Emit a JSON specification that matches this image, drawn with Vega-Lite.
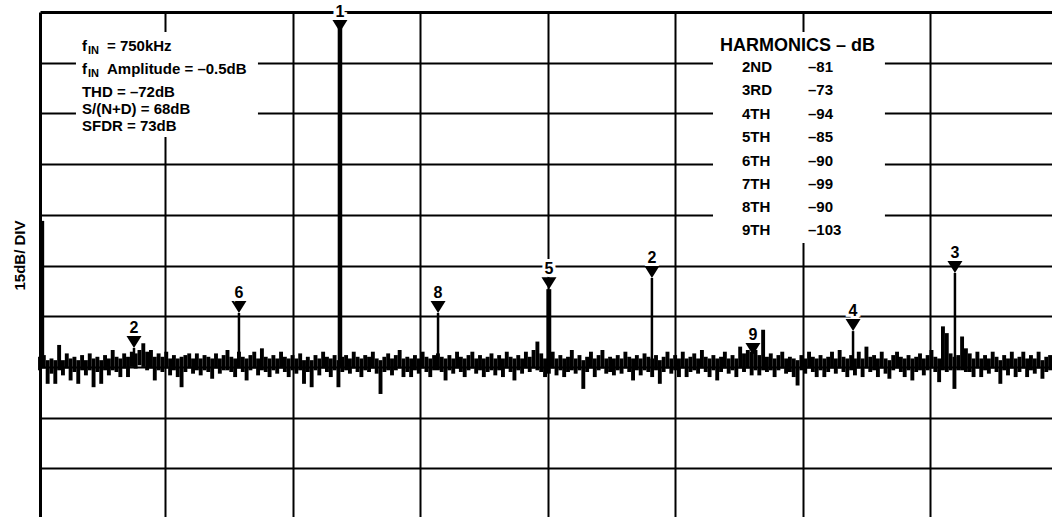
{
  "$schema": "https://vega.github.io/schema/vega-lite/v6.json",
  "width": 1012,
  "height": 505,
  "autosize": "none",
  "padding": {"left": 40, "top": 12, "right": 0, "bottom": 0},
  "background": "white",
  "config": {
    "view": {"stroke": null},
    "axis": {"labels": false, "ticks": false, "grid": true, "gridColor": "black", "gridWidth": 2, "gridOpacity": 1, "domain": true, "domainColor": "black", "domainWidth": 3, "titleFont": "Liberation Sans", "titleFontSize": 15, "titleFontWeight": "bold", "titleColor": "black"},
    "text": {"font": "Liberation Sans", "fontWeight": "bold", "color": "black"}
  },
  "datasets": {
    "noise": [
      {"x":0.02,"hi":-102,"lo":-106},{"x":0.05,"hi":-101.5,"lo":-105.5},{"x":0.08,"hi":-103,"lo":-110},{"x":0.11,"hi":-102.5,"lo":-107},{"x":0.14,"hi":-103,"lo":-110},{"x":0.17,"hi":-98.5,"lo":-106},{"x":0.20,"hi":-103,"lo":-107.5},{"x":0.23,"hi":-101,"lo":-105.5},{"x":0.26,"hi":-102.5,"lo":-109},{"x":0.29,"hi":-102,"lo":-106.5},
      {"x":0.32,"hi":-103,"lo":-110},{"x":0.35,"hi":-101.5,"lo":-106},{"x":0.38,"hi":-103,"lo":-107.5},{"x":0.41,"hi":-101,"lo":-106},{"x":0.44,"hi":-102.5,"lo":-111},{"x":0.47,"hi":-102,"lo":-106.5},{"x":0.50,"hi":-103,"lo":-110},{"x":0.53,"hi":-101.5,"lo":-106},{"x":0.56,"hi":-102.5,"lo":-107.5},{"x":0.59,"hi":-100,"lo":-106},
      {"x":0.62,"hi":-102,"lo":-106.5},{"x":0.65,"hi":-102.5,"lo":-108},{"x":0.68,"hi":-101,"lo":-105.5},{"x":0.71,"hi":-102,"lo":-108},{"x":0.74,"hi":-100.5,"lo":-105},{"x":0.77,"hi":-101,"lo":-105.5},{"x":0.80,"hi":-100,"lo":-104.5},{"x":0.83,"hi":-98,"lo":-105},{"x":0.86,"hi":-100.5,"lo":-106},{"x":0.89,"hi":-100,"lo":-105.5},
      {"x":0.92,"hi":-102,"lo":-109},{"x":0.95,"hi":-101,"lo":-106},{"x":0.98,"hi":-102,"lo":-106.5},{"x":1.01,"hi":-100.5,"lo":-105.5},{"x":1.04,"hi":-102.5,"lo":-107.5},{"x":1.07,"hi":-101.5,"lo":-106},{"x":1.10,"hi":-102.5,"lo":-108},{"x":1.13,"hi":-102,"lo":-111},{"x":1.16,"hi":-101.5,"lo":-106.5},{"x":1.19,"hi":-101,"lo":-105.5},
      {"x":1.22,"hi":-102.5,"lo":-107},{"x":1.25,"hi":-101,"lo":-106},{"x":1.28,"hi":-102.5,"lo":-107.5},{"x":1.31,"hi":-101.5,"lo":-106},{"x":1.34,"hi":-102,"lo":-106.5},{"x":1.37,"hi":-102.5,"lo":-108.5},{"x":1.40,"hi":-101,"lo":-105.5},{"x":1.43,"hi":-102.5,"lo":-107},{"x":1.46,"hi":-101.5,"lo":-106},{"x":1.49,"hi":-100,"lo":-106},
      {"x":1.52,"hi":-102,"lo":-106.5},{"x":1.55,"hi":-102.5,"lo":-108},{"x":1.58,"hi":-100.5,"lo":-105.5},{"x":1.61,"hi":-102,"lo":-106.5},{"x":1.64,"hi":-102.5,"lo":-109},{"x":1.67,"hi":-101.5,"lo":-106},{"x":1.70,"hi":-100.5,"lo":-105.5},{"x":1.73,"hi":-102.5,"lo":-107.5},{"x":1.76,"hi":-99.5,"lo":-106},{"x":1.79,"hi":-102,"lo":-106.5},
      {"x":1.82,"hi":-102.5,"lo":-108},{"x":1.85,"hi":-101.5,"lo":-106},{"x":1.88,"hi":-102.5,"lo":-107},{"x":1.91,"hi":-100.5,"lo":-105.5},{"x":1.94,"hi":-102,"lo":-106.5},{"x":1.97,"hi":-102.5,"lo":-108},{"x":2.00,"hi":-101.5,"lo":-106},{"x":2.03,"hi":-102.5,"lo":-107},{"x":2.06,"hi":-101,"lo":-106},{"x":2.09,"hi":-103,"lo":-110},
      {"x":2.12,"hi":-102,"lo":-106.5},{"x":2.15,"hi":-103,"lo":-111},{"x":2.18,"hi":-101.5,"lo":-106},{"x":2.21,"hi":-102.5,"lo":-107.5},{"x":2.24,"hi":-100.5,"lo":-105.5},{"x":2.27,"hi":-102,"lo":-106.5},{"x":2.30,"hi":-102.5,"lo":-108},{"x":2.33,"hi":-101.5,"lo":-106},{"x":2.36,"hi":-103,"lo":-111},{"x":2.39,"hi":-102,"lo":-106.5},
      {"x":2.42,"hi":-101.5,"lo":-106},{"x":2.45,"hi":-102.5,"lo":-107},{"x":2.48,"hi":-100.5,"lo":-105.5},{"x":2.51,"hi":-102,"lo":-106.5},{"x":2.54,"hi":-102.5,"lo":-108},{"x":2.57,"hi":-101.5,"lo":-106},{"x":2.60,"hi":-102,"lo":-106.5},{"x":2.63,"hi":-100.5,"lo":-105.5},{"x":2.66,"hi":-102.5,"lo":-107},{"x":2.69,"hi":-103,"lo":-113},
      {"x":2.72,"hi":-102,"lo":-106.5},{"x":2.75,"hi":-101,"lo":-106},{"x":2.78,"hi":-102.5,"lo":-107.5},{"x":2.81,"hi":-101.5,"lo":-106},{"x":2.84,"hi":-100,"lo":-105.5},{"x":2.87,"hi":-102.5,"lo":-108},{"x":2.90,"hi":-102,"lo":-106.5},{"x":2.93,"hi":-102.5,"lo":-108},{"x":2.96,"hi":-101.5,"lo":-106},{"x":2.99,"hi":-102.5,"lo":-107},
      {"x":3.02,"hi":-100.5,"lo":-105.5},{"x":3.05,"hi":-102,"lo":-106.5},{"x":3.08,"hi":-102.5,"lo":-108},{"x":3.11,"hi":-101.5,"lo":-106},{"x":3.14,"hi":-101,"lo":-106},{"x":3.17,"hi":-102,"lo":-106.5},{"x":3.20,"hi":-102.5,"lo":-109},{"x":3.23,"hi":-101.5,"lo":-106},{"x":3.26,"hi":-102.5,"lo":-107},{"x":3.29,"hi":-100.5,"lo":-105.5},
      {"x":3.32,"hi":-102,"lo":-106.5},{"x":3.35,"hi":-102.5,"lo":-108},{"x":3.38,"hi":-101.5,"lo":-106},{"x":3.41,"hi":-100.5,"lo":-105.5},{"x":3.44,"hi":-102.5,"lo":-107},{"x":3.47,"hi":-101.5,"lo":-106},{"x":3.50,"hi":-102.5,"lo":-108},{"x":3.53,"hi":-102,"lo":-106.5},{"x":3.56,"hi":-101,"lo":-106},{"x":3.59,"hi":-102.5,"lo":-107.5},
      {"x":3.62,"hi":-101.5,"lo":-106},{"x":3.65,"hi":-102.5,"lo":-108},{"x":3.68,"hi":-100.5,"lo":-105.5},{"x":3.71,"hi":-102,"lo":-106.5},{"x":3.74,"hi":-102.5,"lo":-109},{"x":3.77,"hi":-101.5,"lo":-106},{"x":3.80,"hi":-102.5,"lo":-107},{"x":3.83,"hi":-100.5,"lo":-105.5},{"x":3.86,"hi":-102,"lo":-106.5},{"x":3.89,"hi":-100,"lo":-105.5},
      {"x":3.92,"hi":-97.5,"lo":-106},{"x":3.95,"hi":-101,"lo":-106.5},{"x":3.98,"hi":-102.5,"lo":-108},{"x":4.01,"hi":-102,"lo":-107},{"x":4.04,"hi":-100.5,"lo":-105.5},{"x":4.07,"hi":-102.5,"lo":-107.5},{"x":4.10,"hi":-101.5,"lo":-106},{"x":4.13,"hi":-102.5,"lo":-108},{"x":4.16,"hi":-102,"lo":-106.5},{"x":4.19,"hi":-100,"lo":-106},
      {"x":4.22,"hi":-102.5,"lo":-107},{"x":4.25,"hi":-101.5,"lo":-106},{"x":4.28,"hi":-103,"lo":-111.5},{"x":4.31,"hi":-102,"lo":-106.5},{"x":4.34,"hi":-100.5,"lo":-105.5},{"x":4.37,"hi":-102.5,"lo":-108},{"x":4.40,"hi":-101.5,"lo":-106},{"x":4.43,"hi":-100,"lo":-105.5},{"x":4.46,"hi":-102.5,"lo":-107},{"x":4.49,"hi":-102,"lo":-106.5},
      {"x":4.52,"hi":-102.5,"lo":-107.5},{"x":4.55,"hi":-101.5,"lo":-106},{"x":4.58,"hi":-102.5,"lo":-107},{"x":4.61,"hi":-100.5,"lo":-105.5},{"x":4.64,"hi":-102,"lo":-106.5},{"x":4.67,"hi":-102.5,"lo":-109},{"x":4.70,"hi":-101.5,"lo":-106},{"x":4.73,"hi":-102.5,"lo":-107.5},{"x":4.76,"hi":-101,"lo":-106},{"x":4.79,"hi":-102,"lo":-106.5},
      {"x":4.82,"hi":-102.5,"lo":-108},{"x":4.85,"hi":-101.5,"lo":-106},{"x":4.88,"hi":-103,"lo":-110},{"x":4.91,"hi":-102,"lo":-106.5},{"x":4.94,"hi":-100.5,"lo":-105.5},{"x":4.97,"hi":-102.5,"lo":-107},{"x":5.00,"hi":-101.5,"lo":-106},{"x":5.03,"hi":-102.5,"lo":-108},{"x":5.06,"hi":-100.5,"lo":-105.5},{"x":5.09,"hi":-102.5,"lo":-108},
      {"x":5.12,"hi":-102,"lo":-106.5},{"x":5.15,"hi":-101,"lo":-106},{"x":5.18,"hi":-102.5,"lo":-107},{"x":5.21,"hi":-100,"lo":-105.5},{"x":5.24,"hi":-102,"lo":-106.5},{"x":5.27,"hi":-102.5,"lo":-108},{"x":5.30,"hi":-101.5,"lo":-106},{"x":5.33,"hi":-102.5,"lo":-109},{"x":5.36,"hi":-102,"lo":-106.5},{"x":5.39,"hi":-100.5,"lo":-105.5},
      {"x":5.42,"hi":-102.5,"lo":-107},{"x":5.45,"hi":-101.5,"lo":-106},{"x":5.48,"hi":-102.5,"lo":-108},{"x":5.51,"hi":-99,"lo":-105.5},{"x":5.54,"hi":-101,"lo":-106.5},{"x":5.57,"hi":-100,"lo":-105.5},{"x":5.60,"hi":-100.5,"lo":-107.5},{"x":5.63,"hi":-100,"lo":-106},{"x":5.66,"hi":-101.5,"lo":-107.5},{"x":5.69,"hi":-94,"lo":-106},
      {"x":5.72,"hi":-102,"lo":-106.5},{"x":5.75,"hi":-101,"lo":-106},{"x":5.78,"hi":-102.5,"lo":-108},{"x":5.81,"hi":-101.5,"lo":-106},{"x":5.84,"hi":-100.5,"lo":-105.5},{"x":5.87,"hi":-102.5,"lo":-107},{"x":5.90,"hi":-102,"lo":-106.5},{"x":5.93,"hi":-102.5,"lo":-108},{"x":5.96,"hi":-103,"lo":-110.5},{"x":5.99,"hi":-101.5,"lo":-106},
      {"x":6.02,"hi":-102.5,"lo":-107},{"x":6.05,"hi":-100.5,"lo":-105.5},{"x":6.08,"hi":-102,"lo":-106.5},{"x":6.11,"hi":-102.5,"lo":-108},{"x":6.14,"hi":-101.5,"lo":-106},{"x":6.17,"hi":-102.5,"lo":-108},{"x":6.20,"hi":-102,"lo":-106.5},{"x":6.23,"hi":-100.5,"lo":-105.5},{"x":6.26,"hi":-102.5,"lo":-107},{"x":6.29,"hi":-100,"lo":-105.5},
      {"x":6.32,"hi":-102,"lo":-106.5},{"x":6.35,"hi":-102.5,"lo":-108},{"x":6.38,"hi":-101.5,"lo":-106},{"x":6.41,"hi":-102.5,"lo":-107.5},{"x":6.44,"hi":-100.5,"lo":-105.5},{"x":6.47,"hi":-102.5,"lo":-108},{"x":6.50,"hi":-99,"lo":-105.5},{"x":6.53,"hi":-102,"lo":-106.5},{"x":6.56,"hi":-101.5,"lo":-106},{"x":6.59,"hi":-102.5,"lo":-108},
      {"x":6.62,"hi":-100.5,"lo":-105.5},{"x":6.65,"hi":-102.5,"lo":-107},{"x":6.68,"hi":-103,"lo":-108.5},{"x":6.71,"hi":-101.5,"lo":-106},{"x":6.74,"hi":-100.5,"lo":-105.5},{"x":6.77,"hi":-102,"lo":-106.5},{"x":6.80,"hi":-102.5,"lo":-108},{"x":6.83,"hi":-101.5,"lo":-106},{"x":6.86,"hi":-102.5,"lo":-109},{"x":6.89,"hi":-102,"lo":-106.5},
      {"x":6.92,"hi":-101,"lo":-106},{"x":6.95,"hi":-102.5,"lo":-107.5},{"x":6.98,"hi":-101.5,"lo":-106},{"x":7.01,"hi":-100,"lo":-105.5},{"x":7.04,"hi":-102,"lo":-106.5},{"x":7.07,"hi":-102.5,"lo":-109.5},{"x":7.10,"hi":-93,"lo":-106},{"x":7.13,"hi":-95,"lo":-106.5},{"x":7.16,"hi":-101,"lo":-106},{"x":7.19,"hi":-102,"lo":-111.5},
      {"x":7.22,"hi":-101.5,"lo":-106},{"x":7.25,"hi":-96,"lo":-106},{"x":7.28,"hi":-99.5,"lo":-106.5},{"x":7.31,"hi":-101,"lo":-106.5},{"x":7.34,"hi":-102.5,"lo":-108},{"x":7.37,"hi":-100.5,"lo":-105.5},{"x":7.40,"hi":-102.5,"lo":-108},{"x":7.43,"hi":-101.5,"lo":-106},{"x":7.46,"hi":-102.5,"lo":-107},{"x":7.49,"hi":-100.5,"lo":-105.5},
      {"x":7.52,"hi":-102,"lo":-106.5},{"x":7.55,"hi":-103,"lo":-110},{"x":7.58,"hi":-101.5,"lo":-106},{"x":7.61,"hi":-102.5,"lo":-107.5},{"x":7.64,"hi":-100.5,"lo":-105.5},{"x":7.67,"hi":-102.5,"lo":-108},{"x":7.70,"hi":-102,"lo":-106.5},{"x":7.73,"hi":-100.5,"lo":-105.5},{"x":7.76,"hi":-102.5,"lo":-108},{"x":7.79,"hi":-101.5,"lo":-106},
      {"x":7.82,"hi":-102.5,"lo":-107},{"x":7.85,"hi":-100.5,"lo":-105.5},{"x":7.88,"hi":-103,"lo":-108.5},{"x":7.91,"hi":-102,"lo":-106.5},{"x":7.94,"hi":-101.5,"lo":-106}
    ],
    "peaks": [
      {"x":0.027,"top":-61.8},{"x":0.043,"top":-61.8},
      {"x":2.364,"top":-0.5},{"x":2.380,"top":-0.5},
      {"x":0.757,"top":-99.4},
      {"x":1.580,"top":-89.05},
      {"x":3.141,"top":-89.05},
      {"x":4.000,"top":-82.0},{"x":4.019,"top":-82.0},
      {"x":4.818,"top":-78.7},
      {"x":5.626,"top":-101.5},
      {"x":6.395,"top":-94.4},
      {"x":7.194,"top":-77.2}
    ],
    "markers": [
      {"m":"1","x":2.372,"y":-5.9},
      {"m":"2","x":0.757,"y":-99.4},
      {"m":"6","x":1.580,"y":-89.05},
      {"m":"8","x":3.141,"y":-89.05},
      {"m":"5","x":4.011,"y":-82.0},
      {"m":"2","x":4.818,"y":-78.7},
      {"m":"9","x":5.610,"y":-101.5},
      {"m":"4","x":6.395,"y":-94.4},
      {"m":"3","x":7.194,"y":-77.2}
    ],
    "boxes": [
      {"x":0.302,"x2":1.729,"y":-5.92,"y2":-36.98},
      {"x":5.297,"x2":6.645,"y":-5.92,"y2":-68.34}
    ],
    "info": [
      {"t":"f","s":"IN","r":"= 750kHz","x":0.349,"y":-11.39},
      {"t":"f","s":"IN","r":"Amplitude = –0.5dB","x":0.349,"y":-18.34},
      {"t":"THD = –72dB","x":0.349,"y":-25.15},
      {"t":"S/(N+D) = 68dB","x":0.349,"y":-30.3},
      {"t":"SFDR = 73dB","x":0.349,"y":-35.21}
    ],
    "header": [
      {"t":"HARMONICS – dB","x":5.352,"y":-11.45}
    ],
    "harm": [
      {"h":"2ND","v":"–81","y":-17.81},
      {"h":"3RD","v":"–73","y":-24.5},
      {"h":"4TH","v":"–94","y":-31.6},
      {"h":"5TH","v":"–85","y":-38.52},
      {"h":"6TH","v":"–90","y":-45.42},
      {"h":"7TH","v":"–99","y":-52.31},
      {"h":"8TH","v":"–90","y":-59.23},
      {"h":"9TH","v":"–103","y":-66.12}
    ]
  },
  "layer": [
    {
      "data": {"name": "noise"},
      "mark": {"type": "rule", "color": "black", "strokeWidth": 3.9},
      "encoding": {
        "x": {"field": "x", "type": "quantitative", "scale": {"domain": [0.02, 7.955], "nice": false, "zero": false}, "axis": {"orient": "top", "values": [1,2,3,4,5,6,7], "title": null}},
        "y": {"field": "hi", "type": "quantitative", "scale": {"domain": [-149.4, 0], "nice": false, "zero": false}, "axis": {"orient": "left", "values": [-15,-30,-45,-60,-75,-90,-105,-120,-135], "title": "15dB/ DIV", "titleX": -21, "titleY": 243, "titleAngle": 270, "titleAlign": "center", "titleBaseline": "middle"}},
        "y2": {"field": "lo"}
      }
    },
    {
      "data": {"name": "peaks"},
      "mark": {"type": "rule", "color": "black", "strokeWidth": 2.5},
      "encoding": {
        "x": {"field": "x", "type": "quantitative"},
        "y": {"field": "top", "type": "quantitative"},
        "y2": {"datum": -105}
      }
    },
    {
      "data": {"name": "boxes"},
      "mark": {"type": "rect", "color": "white", "opacity": 1},
      "encoding": {
        "x": {"field": "x", "type": "quantitative"},
        "x2": {"field": "x2"},
        "y": {"field": "y", "type": "quantitative"},
        "y2": {"field": "y2"}
      }
    },
    {
      "data": {"name": "info"},
      "mark": {"type": "text", "align": "left", "baseline": "alphabetic", "fontSize": 15},
      "encoding": {
        "x": {"field": "x", "type": "quantitative"},
        "y": {"field": "y", "type": "quantitative"},
        "text": {"field": "t"}
      }
    },
    {
      "data": {"name": "info"},
      "transform": [{"filter": "datum.s"}],
      "mark": {"type": "text", "align": "left", "baseline": "alphabetic", "fontSize": 11, "dx": 6, "dy": 3},
      "encoding": {
        "x": {"field": "x", "type": "quantitative"},
        "y": {"field": "y", "type": "quantitative"},
        "text": {"field": "s"}
      }
    },
    {
      "data": {"name": "info"},
      "transform": [{"filter": "datum.r"}],
      "mark": {"type": "text", "align": "left", "baseline": "alphabetic", "fontSize": 15, "dx": 25},
      "encoding": {
        "x": {"field": "x", "type": "quantitative"},
        "y": {"field": "y", "type": "quantitative"},
        "text": {"field": "r"}
      }
    },
    {
      "data": {"name": "header"},
      "mark": {"type": "text", "align": "left", "baseline": "alphabetic", "fontSize": 18},
      "encoding": {
        "x": {"field": "x", "type": "quantitative"},
        "y": {"field": "y", "type": "quantitative"},
        "text": {"field": "t"}
      }
    },
    {
      "data": {"name": "harm"},
      "mark": {"type": "text", "align": "left", "baseline": "alphabetic", "fontSize": 15},
      "encoding": {
        "x": {"datum": 5.524, "type": "quantitative"},
        "y": {"field": "y", "type": "quantitative"},
        "text": {"field": "h"}
      }
    },
    {
      "data": {"name": "harm"},
      "mark": {"type": "text", "align": "left", "baseline": "alphabetic", "fontSize": 15},
      "encoding": {
        "x": {"datum": 6.042, "type": "quantitative"},
        "y": {"field": "y", "type": "quantitative"},
        "text": {"field": "v"}
      }
    },
    {
      "data": {"name": "markers"},
      "mark": {"type": "point", "shape": "M-1,-1.6L1,-1.6L0,0Z", "size": 225, "filled": true, "color": "black", "opacity": 1, "strokeWidth": 0},
      "encoding": {
        "x": {"field": "x", "type": "quantitative"},
        "y": {"field": "y", "type": "quantitative"}
      }
    },
    {
      "data": {"name": "markers"},
      "mark": {"type": "text", "align": "center", "baseline": "middle", "fontSize": 16, "dy": -20, "stroke": "white", "strokeWidth": 6, "color": "white"},
      "encoding": {
        "x": {"field": "x", "type": "quantitative"},
        "y": {"field": "y", "type": "quantitative"},
        "text": {"field": "m"}
      }
    },
    {
      "data": {"name": "markers"},
      "mark": {"type": "text", "align": "center", "baseline": "middle", "fontSize": 16, "dy": -20},
      "encoding": {
        "x": {"field": "x", "type": "quantitative"},
        "y": {"field": "y", "type": "quantitative"},
        "text": {"field": "m"}
      }
    }
  ]
}
